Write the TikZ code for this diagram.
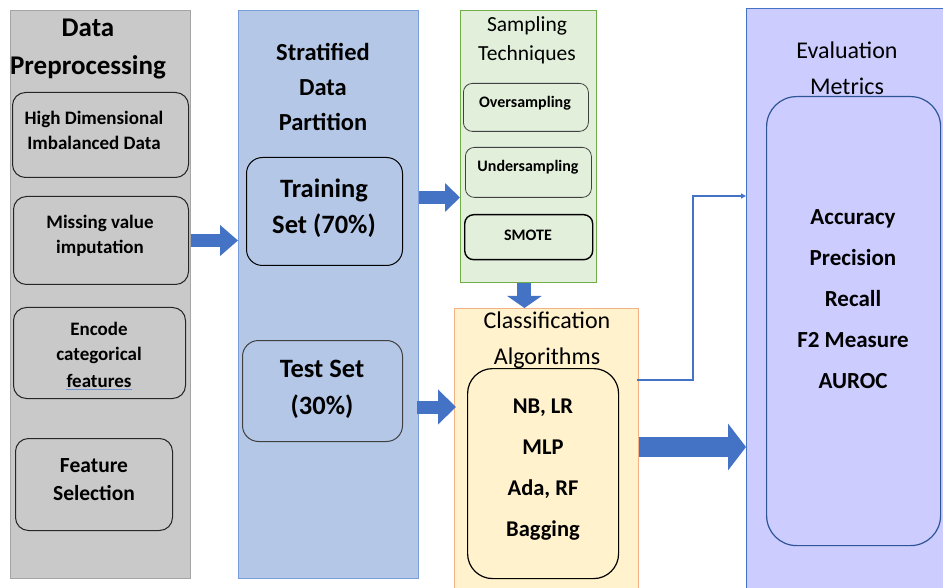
\documentclass[tikz,border=0pt]{standalone}
\usepackage{fontspec}
\setmainfont{Carlito}
\usetikzlibrary{arrows.meta}
\definecolor{prefill}{HTML}{C9C9C9}
\definecolor{predraw}{HTML}{A5A5A5}
\definecolor{sdpfill}{HTML}{B4C7E7}
\definecolor{sdpdraw}{HTML}{7A9DDB}
\definecolor{sampfill}{HTML}{E2EFDA}
\definecolor{sampdraw}{HTML}{70AD47}
\definecolor{clsfill}{HTML}{FFF2CC}
\definecolor{clsdraw}{HTML}{F4B183}
\definecolor{evalfill}{HTML}{CCCCFF}
\definecolor{evaldraw}{HTML}{4472C4}
\definecolor{metdraw}{HTML}{2F5597}
\definecolor{arrowblue}{HTML}{4472C4}
\begin{document}
\begin{tikzpicture}[x=1pt,y=-1pt,
  cont/.style={anchor=north west, inner sep=0pt, line width=0.9pt},
  rbox/.style={draw=black!85, anchor=north west, inner sep=0pt, rounded corners=13pt, line width=1pt},
  blk/.style={draw=arrowblue},
  lbl/.style={align=center, inner sep=0pt},
  bt/.style={lbl, font=\bfseries\fontsize{#1}{#1}\selectfont},
]
\useasboundingbox (0,0) rectangle (943,588);
% containers
\node[cont, draw=predraw, fill=prefill, minimum width=180pt, minimum height=568pt] (pre) at (10,10) {};
\node[cont, draw=sdpdraw, fill=sdpfill, minimum width=180pt, minimum height=568pt] (sdp) at (238,10) {};
\node[cont, draw=sampdraw, fill=sampfill, minimum width=136pt, minimum height=272pt] (samp) at (460,10) {};
\node[cont, draw=clsdraw, fill=clsfill, minimum width=184pt, minimum height=284pt] (cls) at (454,308) {};
\node[cont, draw=evaldraw, fill=evalfill, minimum width=200pt, minimum height=585pt] (eval) at (746,8) {};

% titles
\node[lbl, font=\bfseries\fontsize{27}{38}\selectfont] (preT) at (88,49) {Data\\Preprocessing};
\node[lbl, font=\bfseries\fontsize{24.5}{35}\selectfont] (sdpT) at (323,87) {Stratified\\Data\\Partition};
\node[lbl, font=\fontsize{21.5}{29}\selectfont] (sampT) at (527,40) {Sampling\\Techniques};
\node[lbl, font=\fontsize{24}{36}\selectfont] (clsT) at (547,340) {Classification\\Algorithms};
\node[lbl, font=\fontsize{24}{36}\selectfont] (evalT) at (847,68) {Evaluation\\Metrics};

% preprocessing boxes
\node[rbox, fill=prefill, minimum width=176pt, minimum height=85pt] (hd) at (12,92) {};
\node[lbl, font=\bfseries\fontsize{19}{25}\selectfont] (hdT) at (94,130) {High Dimensional\\Imbalanced Data};
\node[rbox, fill=prefill, minimum width=175pt, minimum height=88pt] (mv) at (13,196) {};
\node[lbl, font=\bfseries\fontsize{19}{25}\selectfont] (mvT) at (100,236) {Missing value\\imputation};
\node[rbox, fill=prefill, minimum width=172pt, minimum height=91pt] (enc) at (13,307) {};
\node[lbl, font=\bfseries\fontsize{19}{25}\selectfont] (encT) at (99,343) {Encode\\categorical};
\node[lbl, font=\bfseries\fontsize{19}{25}\selectfont, anchor=base] (encF) at (99,387) {features};
\draw[color=arrowblue!75, line width=0.8pt] ([yshift=-2pt]encF.base west) -- ([yshift=-2pt]encF.base east);
\node[rbox, fill=prefill, minimum width=157pt, minimum height=92pt] (fs) at (15,438) {};
\node[lbl, font=\bfseries\fontsize{21.5}{28}\selectfont] (fsT) at (94,480) {Feature\\Selection};

% partition boxes
\node[rbox, draw=black, fill=sdpfill, minimum width=156pt, minimum height=108pt, rounded corners=16pt] (train) at (246,157) {};
\node[lbl, font=\bfseries\fontsize{26.5}{36}\selectfont] (trainT) at (324,208) {Training\\Set (70\%)};
\node[rbox, draw=black!75, fill=sdpfill, minimum width=160pt, minimum height=101pt, rounded corners=16pt] (test) at (242,340) {};
\node[lbl, font=\bfseries\fontsize{26.5}{37}\selectfont] (testT) at (322,389) {Test Set\\(30\%)};

% sampling boxes
\node[rbox, draw=black!75, fill=sampfill, minimum width=125pt, minimum height=48pt, rounded corners=9pt, line width=0.8pt] (over) at (463,83) {};
\node[bt=16] (overT) at (525,103) {Oversampling};
\node[rbox, draw=black!75, fill=sampfill, minimum width=126pt, minimum height=50pt, rounded corners=9pt, line width=0.8pt] (under) at (465,147) {};
\node[bt=16] (underT) at (528,167) {Undersampling};
\node[rbox, draw=black, fill=sampfill, minimum width=128pt, minimum height=45pt, rounded corners=9pt, line width=1.4pt] (smote) at (464,214) {};
\node[bt=16] (smoteT) at (528,235) {SMOTE};

% algorithms
\node[rbox, draw=black, fill=clsfill, minimum width=151pt, minimum height=210pt, rounded corners=25pt, line width=1.2pt] (alg) at (467,368) {};
\node[lbl, font=\bfseries\fontsize{22.5}{41}\selectfont] (algT) at (543,470) {NB, LR\\MLP\\Ada, RF\\Bagging};

% metrics
\node[rbox, draw=metdraw, fill=evalfill, minimum width=174pt, minimum height=449pt, rounded corners=30pt, line width=1.2pt] (met) at (766,96) {};
\node[lbl, font=\bfseries\fontsize{23}{41}\selectfont] (metT) at (853,299) {Accuracy\\Precision\\Recall\\F2 Measure\\AUROC};

% block arrows
\draw[blk, line width=13pt, -{Triangle[length=18pt,width=30pt]}] (mv -| pre.east) -- (mv -| sdp.west);
\coordinate (a2) at ([yshift=14pt]train.east);
\draw[blk, line width=13pt, -{Triangle[length=15pt,width=28pt]}] (a2 -| sdp.east) -- (a2 -| samp.west);
\coordinate (a3) at ([yshift=-16pt]test.east);
\draw[blk, line width=13pt, -{Triangle[length=18pt,width=34pt]}] ([xshift=-2pt]a3 -| sdp.east) -- ([xshift=2pt]a3 -| cls.west);
\coordinate (a4) at ([xshift=-4pt]samp.south);
\draw[blk, line width=14pt, -{Triangle[length=12pt,width=34pt]}] (a4) -- (a4 |- cls.north);
\coordinate (a5) at (0,447);
\draw[blk, line width=20pt, -{Triangle[length=18pt,width=46pt]}] (a5 -| cls.east) -- (a5 -| eval.west);

% thin connector
\coordinate (c1) at (0,380);
\coordinate (c2) at (693,196);
\draw[arrowblue, line width=1.5pt, -{Triangle[length=5pt,width=5pt]}] ([xshift=-2pt]c1 -| cls.east) -| (c2) -- (c2 -| eval.west);
\end{tikzpicture}
\end{document}
